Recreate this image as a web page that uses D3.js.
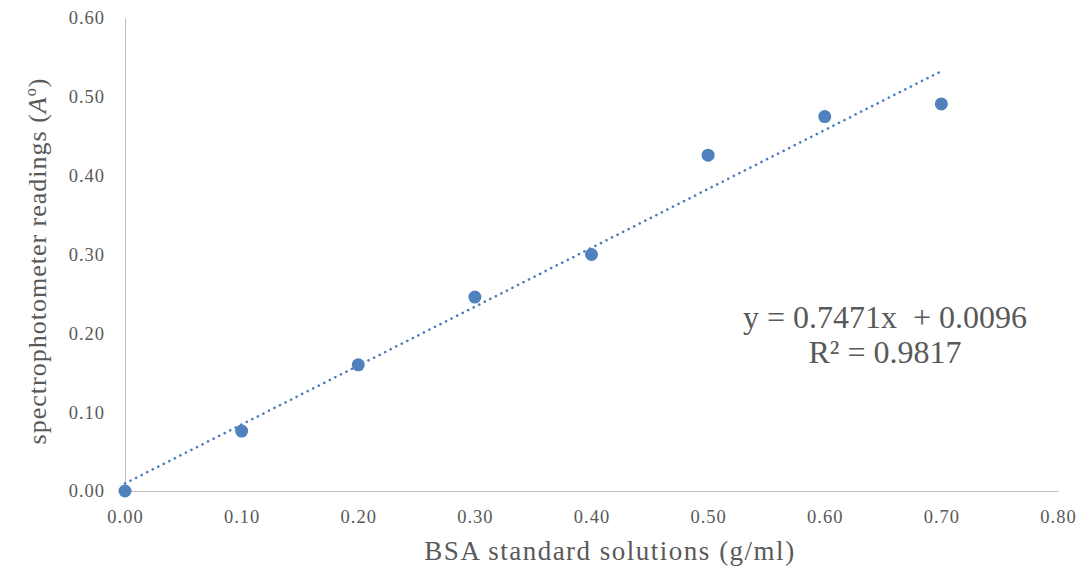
<!DOCTYPE html>
<html>
<head>
<meta charset="utf-8">
<script src="https://cdn.jsdelivr.net/npm/d3@7"></script>
<style>
  body { margin: 0; background: #fff; }
  svg text { font-family: "Liberation Serif", "Times New Roman", serif; }
</style>
</head>
<body>
<div id="chart"></div>
<script>
// data
var concentrations = [0.0, 0.1, 0.2, 0.3, 0.4, 0.5, 0.6, 0.7];
var readings = [0.0, 0.076, 0.16, 0.246, 0.30, 0.426, 0.475, 0.491];
var xTicks = [0, 0.1, 0.2, 0.3, 0.4, 0.5, 0.6, 0.7, 0.8];
var yTicks = [0, 0.1, 0.2, 0.3, 0.4, 0.5, 0.6];
var slope = 0.7471, intercept = 0.0096;
var equationLines = ["y = 0.7471x \u00a0+ 0.0096", "R\u00b2 = 0.9817"];

var width = 1080, height = 569;
var margin = {left: 125, right: 22, top: 18, bottom: 78};

var svg = d3.select("#chart").append("svg")
    .attr("width", width).attr("height", height);

var x = d3.scaleLinear().domain([0, 0.8]).range([margin.left, width - margin.right]);
var y = d3.scaleLinear().domain([0, 0.6]).range([height - margin.bottom, margin.top]);

var gray = "#595959";
var axisCol = "#bfbfbf";

// axes
var xAxis = svg.append("g")
    .attr("transform", "translate(0," + y(0) + ")")
    .call(d3.axisBottom(x).tickValues(xTicks).tickFormat(d3.format(".2f")).tickSize(0).tickPadding(19));
var yAxis = svg.append("g")
    .attr("transform", "translate(" + x(0) + ",0)")
    .call(d3.axisLeft(y).tickValues(yTicks).tickFormat(d3.format(".2f")).tickSize(0).tickPadding(20));

[xAxis, yAxis].forEach(function(a) {
    a.select(".domain").attr("stroke", axisCol).attr("stroke-width", 1);
    a.selectAll("text").attr("fill", gray)
        .style("font-size", "18.5px")
        .style("letter-spacing", "1px")
        .style("font-family", "Liberation Serif");
});

// trendline
svg.append("line")
    .attr("x1", x(0)).attr("y1", y(intercept))
    .attr("x2", x(0.7)).attr("y2", y(slope * 0.7 + intercept))
    .attr("stroke", "#4a7ebb")
    .attr("stroke-width", 2.6)
    .attr("stroke-linecap", "round")
    .attr("stroke-dasharray", "0.1 6.1");

// points
svg.selectAll("circle.pt")
    .data(concentrations)
    .enter().append("circle")
    .attr("class", "pt")
    .attr("cx", function(d) { return x(d); })
    .attr("cy", function(d, i) { return y(readings[i]); })
    .attr("r", 6.5)
    .attr("fill", "#4f81bd");

// equation
var eq = svg.append("text")
    .attr("text-anchor", "middle")
    .attr("fill", gray)
    .style("font-size", "32px");
eq.selectAll("tspan").data(equationLines).enter().append("tspan")
    .attr("x", 885)
    .attr("y", function(d, i) { return 328 + i * 35; })
    .text(function(d) { return d; });

// axis titles
svg.append("text")
    .attr("x", 610)
    .attr("y", 560)
    .attr("text-anchor", "middle")
    .attr("fill", gray)
    .style("font-size", "27px")
    .style("letter-spacing", "1.5px")
    .text("BSA standard solutions (g/ml)");

var yt = svg.append("text")
    .attr("transform", "translate(46,261) rotate(-90)")
    .attr("text-anchor", "middle")
    .attr("fill", gray)
    .style("font-size", "26px")
    .style("letter-spacing", "1px");
yt.append("tspan").text("spectrophotometer readings (");
yt.append("tspan").style("font-style", "italic").text("A");
yt.append("tspan").attr("dy", -10).style("font-size", "16px").text("o");
yt.append("tspan").attr("dy", 10).text(")");
</script>
</body>
</html>
